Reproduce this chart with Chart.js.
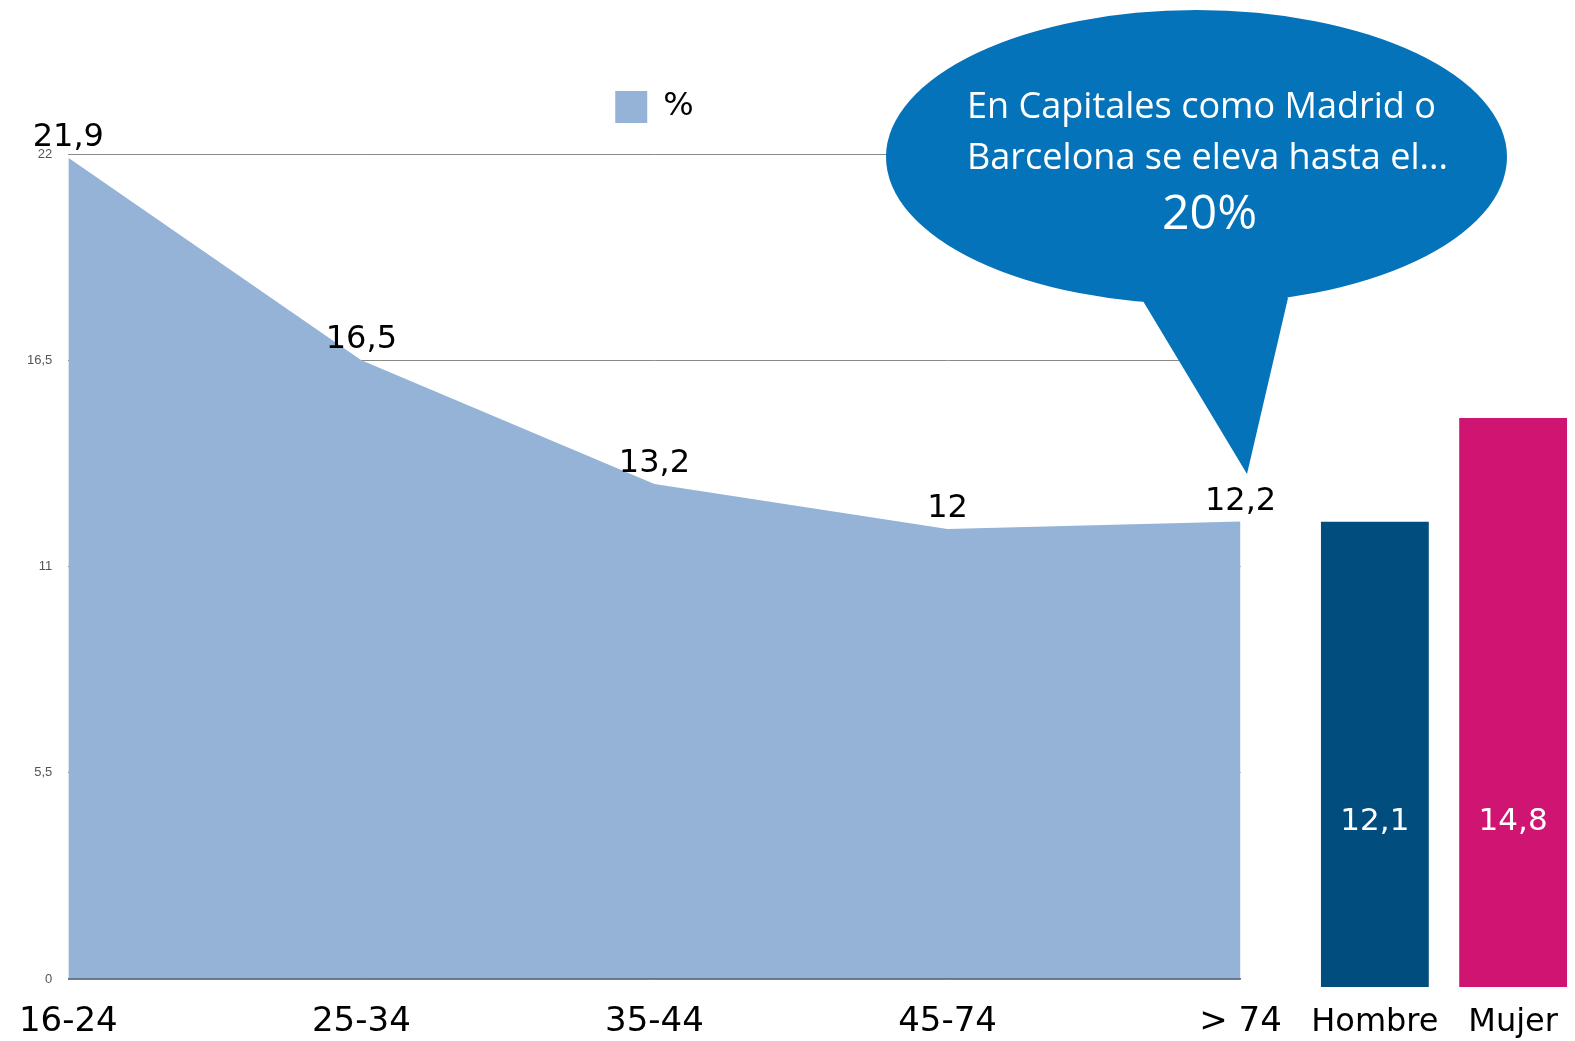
<!DOCTYPE html>
<html>
<head>
<meta charset="utf-8">
<title>Prevalencia por edad y sexo</title>
<script src="https://cdn.jsdelivr.net/npm/chart.js@4/dist/chart.umd.min.js"></script>
<style>
  html, body { margin: 0; padding: 0; background: #ffffff; width: 1575px; height: 1041px; overflow: hidden; }
  #wrapAge { position: absolute; left: 0; top: 0; width: 1575px; height: 1041px; }
  #wrapSex { position: absolute; left: 1290px; top: 0; width: 300px; height: 1041px; }
  canvas { display: block; }
</style>
</head>
<body>
<div id="wrapAge"><canvas id="age" width="1575" height="1041"></canvas></div>
<div id="wrapSex"><canvas id="sex" width="300" height="1041"></canvas></div>
<script>
// Age groups and their percentages (area series)
const ageGroups = ['16-24', '25-34', '35-44', '45-74', '> 74'];
const ageValues = [21.9, 16.5, 13.2, 12, 12.2];
const seriesName = '%';
const yTicks = [0, 5.5, 11, 16.5, 22];

// Split by sex (bar series)
const sexGroups = ['Hombre', 'Mujer'];
const sexValues = [12.1, 14.8];

// Callout text
const calloutLines = ['En Capitales como Madrid o', 'Barcelona se eleva hasta el...'];
const calloutFigure = '20%';

const fmt = v => String(v).replace('.', ',');

// Extra room under the legend before the plot starts
const legendGap = {
  id: 'legendGap',
  beforeInit(chart) {
    const lg = chart.legend;
    if (!lg) return;
    const fit = lg.fit;
    lg.fit = function () { fit.call(this); this.height += 21; };
  }
};

// Value labels above each point of the area
const pointLabels = {
  id: 'pointLabels',
  afterDatasetsDraw(chart) {
    const ctx = chart.ctx;
    const meta = chart.getDatasetMeta(0);
    ctx.save();
    ctx.font = '32px "DejaVu Sans"';
    ctx.fillStyle = '#000000';
    ctx.textAlign = 'center';
    ctx.textBaseline = 'alphabetic';
    meta.data.forEach((pt, i) => {
      ctx.fillText(fmt(ageValues[i]), pt.x, pt.y - 12);
    });
    ctx.restore();
  }
};

// Speech bubble with the note about capital cities
const callout = {
  id: 'callout',
  afterDraw(chart) {
    const ctx = chart.ctx;
    ctx.save();
    ctx.fillStyle = '#0573b9';
    ctx.beginPath();
    ctx.ellipse(1196.5, 157, 310.5, 147, 0, 0, Math.PI * 2);
    ctx.fill();
    ctx.beginPath();
    ctx.moveTo(1143, 301);
    ctx.lineTo(1247, 474);
    ctx.lineTo(1288, 298);
    ctx.lineTo(1215, 240);
    ctx.closePath();
    ctx.fill();

    const family = '"Open Sans", "Noto Sans", sans-serif';
    ctx.font = '100px ' + family;
    const w = ctx.measureText(calloutLines[1]).width;
    const size = 100 * 481 / w;
    ctx.fillStyle = '#ffffff';
    ctx.textBaseline = 'alphabetic';
    ctx.textAlign = 'left';
    ctx.font = size.toFixed(2) + 'px ' + family;
    ctx.fillText(calloutLines[0], 967, 118);
    ctx.fillText(calloutLines[1], 967, 169);
    ctx.textAlign = 'center';
    ctx.font = (size * 1.34).toFixed(2) + 'px ' + family;
    ctx.fillText(calloutFigure, 1209.5, 229);
    ctx.restore();
  }
};

new Chart(document.getElementById('age'), {
  type: 'line',
  data: {
    labels: ageGroups,
    datasets: [{
      label: seriesName,
      data: ageValues,
      fill: 'origin',
      backgroundColor: '#95b3d7',
      borderColor: '#95b3d7',
      borderWidth: 0,
      pointRadius: 0,
      pointHoverRadius: 0,
      tension: 0
    }]
  },
  options: {
    responsive: false,
    animation: false,
    events: [],
    layout: { padding: { top: 81, right: 334.4, bottom: 0, left: 0 } },
    plugins: {
      legend: {
        display: true,
        position: 'top',
        fullSize: false,
        labels: {
          boxWidth: 32,
          boxHeight: 32,
          padding: 10,
          color: '#000000',
          font: { family: 'DejaVu Sans', size: 32 }
        }
      },
      tooltip: { enabled: false }
    },
    scales: {
      x: {
        offset: false,
        grid: { display: false, drawTicks: false },
        border: { display: true, color: '#62758a', width: 1.5, z: 1 },
        ticks: {
          color: '#000000',
          font: { family: 'DejaVu Sans', size: 34 },
          padding: 23,
          maxRotation: 0,
          autoSkip: false
        },
        afterFit: s => { s.height = 62; s.paddingLeft = 0; s.paddingRight = 0; }
      },
      y: {
        min: 0,
        max: 22,
        grid: { color: '#8a8a8a', lineWidth: 1, drawTicks: false },
        border: { display: false },
        ticks: {
          color: '#555555',
          font: { family: 'Liberation Sans', size: 13 },
          padding: 16,
          callback: v => fmt(v)
        },
        afterBuildTicks: s => { s.ticks = yTicks.map(v => ({ value: v })); },
        afterFit: s => { s.width = 68.3; }
      }
    }
  },
  plugins: [legendGap, pointLabels, callout]
});

// Labels written inside each bar, near its foot
const barLabels = {
  id: 'barLabels',
  afterDatasetsDraw(chart) {
    const ctx = chart.ctx;
    const meta = chart.getDatasetMeta(0);
    ctx.save();
    ctx.font = '31px "DejaVu Sans"';
    ctx.fillStyle = '#ffffff';
    ctx.textAlign = 'center';
    ctx.textBaseline = 'alphabetic';
    meta.data.forEach((bar, i) => {
      ctx.fillText(fmt(sexValues[i]), bar.x, bar.base - 157);
    });
    ctx.restore();
  }
};

new Chart(document.getElementById('sex'), {
  type: 'bar',
  data: {
    labels: sexGroups,
    datasets: [{
      data: sexValues,
      backgroundColor: ['#014d7e', '#d01472'],
      borderWidth: 0,
      barPercentage: 0.78,
      categoryPercentage: 1
    }]
  },
  options: {
    responsive: false,
    animation: false,
    events: [],
    layout: { padding: { top: 141.3, right: 7.75, bottom: 0, left: 15.75 } },
    plugins: { legend: { display: false }, tooltip: { enabled: false } },
    scales: {
      x: {
        grid: { display: false, drawTicks: false },
        border: { display: false },
        ticks: {
          color: '#000000',
          font: { family: 'DejaVu Sans', size: 32 },
          padding: 16,
          maxRotation: 0,
          autoSkip: false
        },
        afterFit: s => { s.height = 54; s.paddingLeft = 0; s.paddingRight = 0; }
      },
      y: { display: false, min: 0, max: 22 }
    }
  },
  plugins: [barLabels]
});
</script>
</body>
</html>
